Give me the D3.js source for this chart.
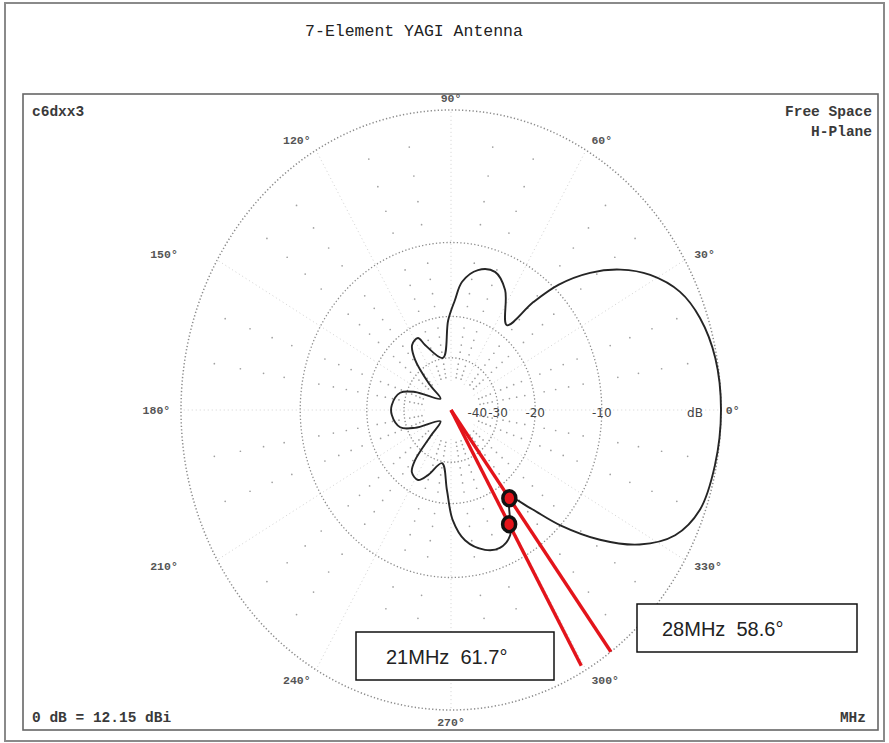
<!DOCTYPE html>
<html>
<head>
<meta charset="utf-8">
<script src="https://cdn.jsdelivr.net/npm/d3@7"></script>
<style>
body { margin: 0; background: #fff; }
svg { display: block; }
</style>
</head>
<body>
<svg id="chart" width="889" height="743"></svg>
<script>
// pattern: azimuth (deg) and relative gain (dB)
var patAngle = [0, 10, 18.4, 24.9, 31.4, 36.7, 41.6, 46.3, 49.7, 53.8, 63.4, 70.5, 77.9, 84.5, 87.7, 92, 99.8,
  113.9, 117, 123.6, 128.5, 133, 136, 155.7, 163, 175.6, 184.4, 197, 204, 224, 229, 231.5, 235, 242.4, 248.6,
  259.4, 266.8, 271, 276.8, 285.1, 291.5, 297.7, 300.8, 306.8, 311.9, 316.5, 321.9, 327.3, 333.3, 340.1, 349.4];
var patDb = [0, -0.1, -0.49, -1.15, -2.5, -4.2, -6.4, -9.4, -12.9, -18, -13.8, -12.3, -12.7, -14.5, -17.2, -20.7, -29.8,
  -24.7, -22.5, -23.1, -26.5, -37, -50, -33, -27.9, -26, -26, -27.9, -33, -50, -37, -26.5, -23.6, -22.9, -25,
  -29.4, -22.6, -17.2, -14.2, -12.5, -12.1, -12.9, -14.6, -17.2, -14.1, -10, -6.1, -3.2, -1.26, -0.35, -0.09];

var ringDb = [0, -10, -20, -30];
var ringLabelDb = [-10, -20, -30, -40];
var ringLabelText = ["-10", "-20", "-30", "-40"];
var angleTicks = [0, 30, 60, 90, 120, 150, 180, 210, 240, 270, 300, 330];

// beamwidth markers added on top of the plot
var markerFreq = ["28MHz", "21MHz"];
var markerBw = ["58.6\u00b0", "61.7\u00b0"];
var markerAngle = [306.3, 299.5];
var markerDotDb = [-17.3, -14.2];
var markerEndDb = [0, -0.35];

var width = 889, height = 743;
var cx = 451, cy = 410, rx = 270, ry = 300;

// ARRL log scale: radius drops to 0.89 for every 2 dB
var logR = d3.scaleLinear().domain([-2, 0]).range([Math.log(0.89), 0]);
function rad(db) { return Math.exp(logR(db)); }

var x = d3.scaleLinear().domain([-1, 1]).range([cx - rx, cx + rx]);
var y = d3.scaleLinear().domain([-1, 1]).range([cy + ry, cy - ry]);

function pt(a, r) {
  var t = a * Math.PI / 180;
  return [x(r * Math.cos(t)), y(r * Math.sin(t))];
}

var svg = d3.select("#chart");

// outer frame and plot box
svg.append("rect").attr("x", 5).attr("y", 3).attr("width", 879).attr("height", 738)
  .attr("fill", "none").attr("stroke", "#8a8a8a").attr("stroke-width", 2);
svg.append("rect").attr("x", 23).attr("y", 94).attr("width", 855).attr("height", 636)
  .attr("fill", "none").attr("stroke", "#666").attr("stroke-width", 1.6);

svg.append("text").attr("x", 414).attr("y", 36).attr("text-anchor", "middle")
  .style("font-family", "'Liberation Mono', 'DejaVu Sans Mono', monospace")
  .style("font-size", "16.5px").attr("fill", "#222")
  .text("7-Element YAGI Antenna");

var mono = "'Liberation Mono', 'Courier New', monospace";
function corner(tx, ty, anchor, s) {
  svg.append("text").attr("x", tx).attr("y", ty).attr("text-anchor", anchor)
    .style("font-family", mono).style("font-size", "14.5px").style("font-weight", "bold")
    .attr("fill", "#3a3a3a").text(s);
}
corner(32, 116, "start", "c6dxx3");
corner(872, 116, "end", "Free Space");
corner(872, 136, "end", "H-Plane");
corner(32, 722, "start", "0 dB = 12.15 dBi");
corner(866, 722, "end", "MHz");

var grid = svg.append("g").attr("class", "grid");

// spokes every 30 deg
angleTicks.forEach(function(a) {
  var p0 = pt(a, rad(-40)), p1 = pt(a, 1);
  grid.append("line").attr("x1", p0[0]).attr("y1", p0[1]).attr("x2", p1[0]).attr("y2", p1[1])
    .attr("stroke", "#d2d2d2").attr("stroke-width", 1).attr("stroke-dasharray", "1 3");
});

// dots every 10 deg, every 2 dB
for (var a = 0; a < 360; a += 10) {
  if (a % 30 === 0) continue;
  for (var db = -2; db >= -38; db -= 2) {
    if (db % 10 === 0) continue;
    var p = pt(a, rad(db));
    grid.append("circle").attr("cx", p[0]).attr("cy", p[1]).attr("r", 0.85).attr("fill", "#a0a0a0");
  }
}

grid.selectAll("ellipse").data(ringDb).enter().append("ellipse")
  .attr("cx", cx).attr("cy", cy)
  .attr("rx", function(d) { return x(rad(d)) - cx; })
  .attr("ry", function(d) { return cy - y(rad(d)); })
  .attr("fill", "none").attr("stroke", "#8c8c8c")
  .attr("stroke-width", function(d) { return d === 0 ? 1.5 : 1.3; })
  .attr("stroke-dasharray", "1.3 2.2");

// dB labels along 0 deg
var sans = "'DejaVu Sans', 'Liberation Sans', sans-serif";
svg.selectAll(".dbl").data(ringLabelDb).enter().append("text").attr("class", "dbl")
  .attr("x", function(d) { return pt(0, rad(d))[0]; })
  .attr("y", cy + 7).attr("text-anchor", "middle")
  .style("font-family", sans).style("font-size", "12px").attr("fill", "#444")
  .text(function(d, i) { return ringLabelText[i]; });
svg.append("text").attr("x", x(1) - 26).attr("y", cy + 7).attr("text-anchor", "middle")
  .style("font-family", sans).style("font-size", "12px").attr("fill", "#444").text("dB");

// angle labels
var shift = { 0: -6, 150: -30, 210: -30 };
svg.selectAll(".ang").data(angleTicks).enter().append("text").attr("class", "ang")
  .each(function(a) {
    var p = pt(a, 1.04);
    var c = Math.cos(a * Math.PI / 180);
    var anchor = Math.abs(c) < 0.1 ? "middle" : (c > 0 ? "start" : "end");
    d3.select(this).attr("x", p[0] + (shift[a] || 0)).attr("y", p[1] + 4).attr("text-anchor", anchor);
  })
  .style("font-family", mono).style("font-size", "11.5px").style("font-weight", "bold")
  .attr("fill", "#555")
  .text(function(a) { return a + "\u00b0"; });

// radiation pattern
var patPts = patAngle.map(function(a, i) { return pt(a, rad(patDb[i])); });
svg.append("path").datum(patPts)
  .attr("d", d3.line().curve(d3.curveCatmullRomClosed.alpha(0.5)))
  .attr("fill", "none").attr("stroke", "#252525").attr("stroke-width", 1.9);

// beamwidth markers
markerAngle.forEach(function(a, i) {
  var p1 = pt(a, rad(markerEndDb[i]));
  svg.append("line").attr("x1", cx).attr("y1", cy).attr("x2", p1[0]).attr("y2", p1[1])
    .attr("stroke", "#e3141b").attr("stroke-width", 3.4);
});
markerAngle.forEach(function(a, i) {
  var p = pt(a, rad(markerDotDb[i]));
  svg.append("ellipse").attr("cx", p[0]).attr("cy", p[1]).attr("rx", 6.5).attr("ry", 7.5)
    .attr("fill", "#e3141b").attr("stroke", "#111").attr("stroke-width", 3.5);
});

var boxes = [{ x: 637, y: 604, w: 220, h: 48 }, { x: 356, y: 632, w: 198, h: 48 }];
boxes.forEach(function(b, i) {
  svg.append("rect").attr("x", b.x).attr("y", b.y).attr("width", b.w).attr("height", b.h)
    .attr("fill", "#fff").attr("stroke", "#111").attr("stroke-width", 1.5);
  svg.append("text").attr("x", b.x + 25 + (i === 1 ? 5 : 0)).attr("y", b.y + 32)
    .style("font-family", "'Liberation Sans', Arial, sans-serif").style("font-size", "20px")
    .attr("fill", "#222").attr("xml:space", "preserve")
    .text(markerFreq[i] + "  " + markerBw[i]);
});
</script>
</body>
</html>
